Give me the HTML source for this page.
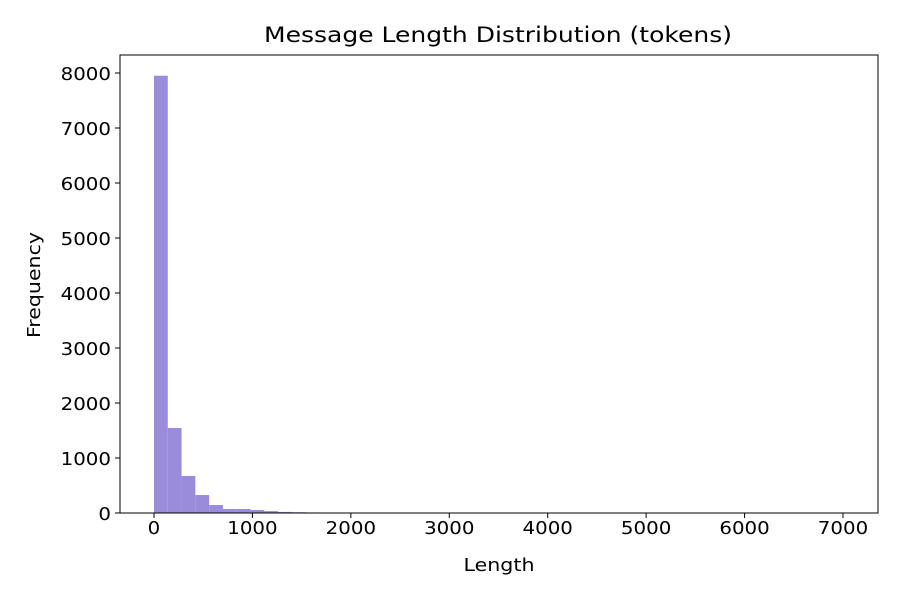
<!DOCTYPE html>
<html><head><meta charset="utf-8"><style>
body{margin:0;background:#fff;font-family:"Liberation Sans","DejaVu Sans",sans-serif}
text{font-family:"DejaVu Sans","Liberation Sans",sans-serif;fill:#000}
</style></head><body>
<svg id="chart" width="900" height="600">
<rect x="0" y="0" width="900" height="600" fill="#fff"/>
<g id="bars"></g>
<g id="axes"></g>
</svg>
<script>
const binStart = 0;
const binWidth = 140;
const counts = [7950,1545,673,327,145,73,73,55,35,20,14,10,8,6,5,4,4,3,3,3,2,2,2,2,2,1,1,1,1,1,1,1,1,1,0,1,0,0,1,0,0,0,0,0,0,0,0,0,0,1];
const xTicks = [0,1000,2000,3000,4000,5000,6000,7000];
const yTicks = [0,1000,2000,3000,4000,5000,6000,7000,8000];
const L=120,R=878,T=55,B=513;
const xs = v => 154 + v*(843-154)/7000;
const ys = v => 513 - v*0.055;
const NS="http://www.w3.org/2000/svg";
const bars=document.getElementById('bars'), axes=document.getElementById('axes');
function mk(tag,attrs,parent){const e=document.createElementNS(NS,tag);for(const k in attrs)e.setAttribute(k,attrs[k]);parent.appendChild(e);return e;}
counts.forEach((c,i)=>{
  if(c<=0)return;
  const x0=xs(binStart+i*binWidth), x1=xs(binStart+(i+1)*binWidth);
  const r=mk('rect',{x:x0,y:ys(c),width:x1-x0,height:B-ys(c),fill:'#9a8cdb'},bars);
  
  
});
const frame=mk('rect',{x:L,y:T,width:R-L,height:B-T,fill:'none',stroke:'#000','stroke-width':1},axes);


xTicks.forEach(v=>{
  const x=xs(v);
  mk('line',{x1:x,x2:x,y1:B,y2:B+5,stroke:'#000'},axes);
  const s=String(v);
  const t=mk('text',{x:x,y:B+21,'text-anchor':'middle','font-size':'18',textLength:s.length*12.6,lengthAdjust:'spacingAndGlyphs'},axes);
  t.textContent=s;
  
  
});
yTicks.forEach(v=>{
  const y=ys(v);
  mk('line',{x1:L-5,x2:L,y1:y,y2:y,stroke:'#000'},axes);
  const s=String(v);
  const t=mk('text',{x:L-9,y:y+7,'text-anchor':'end','font-size':'18',textLength:s.length*12.6,lengthAdjust:'spacingAndGlyphs'},axes);
  t.textContent=s;
  
  
});
const title=mk('text',{x:498,y:42,'text-anchor':'middle','font-size':'21',textLength:'468',lengthAdjust:'spacingAndGlyphs'},axes);
title.textContent='Message Length Distribution (tokens)';


const xl=mk('text',{x:499,y:571,'text-anchor':'middle','font-size':'18',textLength:'71',lengthAdjust:'spacingAndGlyphs'},axes);
xl.textContent='Length';


const yl=mk('text',{x:40,y:285,'text-anchor':'middle','font-size':'18',textLength:'106',lengthAdjust:'spacingAndGlyphs',transform:'rotate(-90 40 285)'},axes);
yl.textContent='Frequency';


</script>
</body></html>
